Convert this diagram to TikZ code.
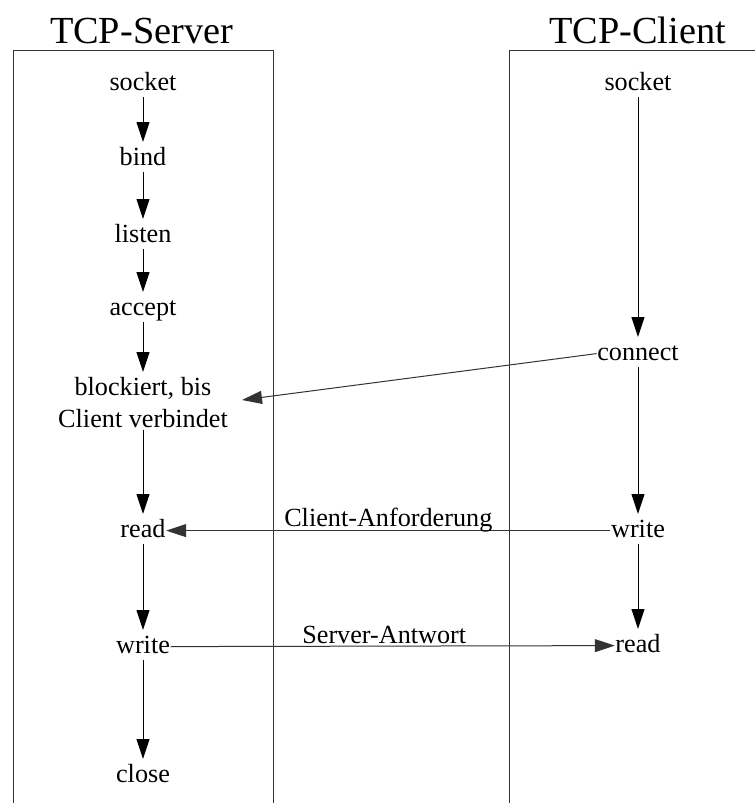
\documentclass[tikz,border=0pt]{standalone}
\usepackage{fontspec}
\setmainfont{Liberation Serif}
\usetikzlibrary{arrows.meta}
\begin{document}
\begin{tikzpicture}[x=1pt,y=-1pt,
  every node/.style={font=\fontsize{26.2}{32}\selectfont, inner sep=2pt},
  lbl/.style={anchor=base, text height=17.8pt, text depth=5pt},
  ttl/.style={anchor=base, font=\fontsize{38.3}{44}\selectfont, inner sep=0pt},
  frame/.style={line width=1pt, draw=black!80},
  flow/.style={line width=1pt, -{Triangle[length=20pt,width=13pt]}, shorten >=3pt},
  msg/.style={line width=1pt, draw=black!80, -{Triangle[length=20pt,width=13pt]}},
  msglbl/.style={anchor=base, inner sep=0pt, draw=none}
]
\useasboundingbox (0,0) rectangle (755,803);
% frames
\draw[frame] (13,803) -- (13,50.5) -- (273,50.5) -- (273,803);
\draw[frame] (509,803) -- (509,50.5) -- (755,50.5);
% titles
\node[ttl] (tserv) at (141.5,43) {TCP-Server};
\node[ttl] (tcli) at (637.5,43) {TCP-Client};
% server column
\node[lbl] (ssock) at (143,90) {socket};
\node[lbl] (sbind) at (143,165) {bind};
\node[lbl] (slist) at (143,242) {listen};
\node[lbl] (sacc) at (143,315) {accept};
\node[align=center, anchor=north] (sblk) at (143,375) {blockiert, bis\\Client verbindet};
\node[lbl, inner xsep=0.5pt] (sread) at (143,537) {read};
\node[lbl, inner xsep=0.5pt] (swrite) at (143,653) {write};
\node[lbl] (sclose) at (143,782) {close};
% client column
\node[lbl] (csock) at (638,90) {socket};
\node[lbl, inner xsep=0.5pt] (ccon) at (638,360) {connect};
\node[lbl, inner xsep=0.5pt] (cwrite) at (638,537) {write};
\node[lbl, inner xsep=0.5pt] (cread) at (638,652) {read};
\coordinate (blkin) at (242,400);
% server flow
\draw[flow] (ssock) -- (sbind);
\draw[flow] (sbind) -- (slist);
\draw[flow] (slist) -- (sacc);
\draw[flow] (sacc) -- (sblk);
\draw[flow] (sblk) -- (sread);
\draw[flow] (sread) -- (swrite);
\draw[flow] (swrite) -- (sclose);
% client flow
\draw[flow] (csock) -- (ccon);
\draw[flow] (ccon) -- (cwrite);
\draw[flow] (cwrite) -- (cread);
% messages
\draw[msg] (ccon.west) -- (blkin);
\draw[msg] (cwrite.west) -- (sread.east) node[pos=0.5, msglbl, yshift=4pt] (lreq) {Client-Anforderung};
\draw[msg] (swrite.east) -- (cread.west) node[pos=0.481, msglbl, yshift=3pt] (lresp) {Server-Antwort};
\end{tikzpicture}
\end{document}
